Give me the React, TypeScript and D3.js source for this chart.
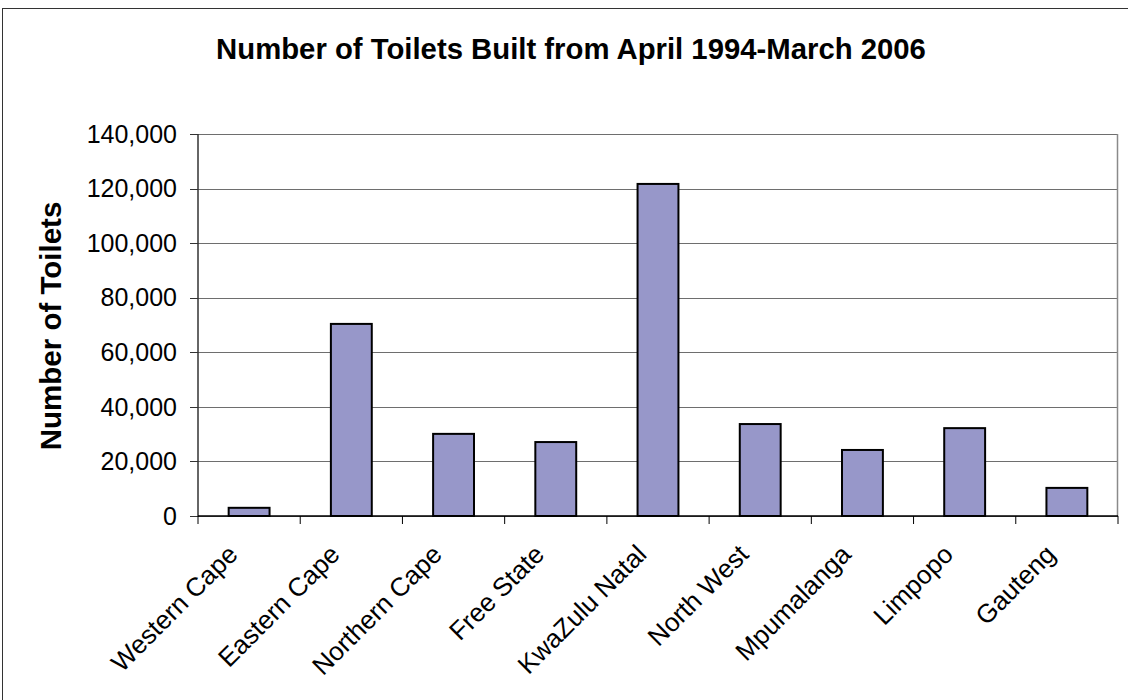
import React from "react";
import * as d3 from "d3";

const categories = [
  "Western Cape",
  "Eastern Cape",
  "Northern Cape",
  "Free State",
  "KwaZulu Natal",
  "North West",
  "Mpumalanga",
  "Limpopo",
  "Gauteng",
];
const toilets = [3000, 70400, 30100, 27100, 121700, 33700, 24200, 32200, 10300];
const yTicks = [0, 20000, 40000, 60000, 80000, 100000, 120000, 140000];
const title = "Number of Toilets Built from April 1994-March 2006";
const yTitle = "Number of Toilets";

const W = 1128;
const H = 700;
const left = 198;
const right = 1118;
const top = 134;
const bottom = 516;
const FONT = "'Liberation Sans', Arial, sans-serif";

export default function App() {
  const x = d3.scaleBand<string>().domain(categories).range([left, right]).paddingInner(0.6).paddingOuter(0.3);
  const y = d3.scaleLinear().domain([0, 140000]).range([bottom, top]);
  const step = x.step();
  const fmt = d3.format(",");
  const boundaries = categories.map((c) => (x(c) as number) - step * 0.3).concat([right]);

  return (
    <svg width={W} height={H} style={{ position: "absolute", left: 0, top: 0, background: "#fff" }} fontFamily={FONT}>
      <rect x={0} y={0} width={W} height={H} fill="#fff" />
      <rect x={2.5} y={8.5} width={W + 10} height={H + 10} fill="none" stroke="#333" strokeWidth={1} />
      <text x={571} y={59} textAnchor="middle" fontSize={29.3} fontWeight="bold" fill="#000">
        {title}
      </text>
      {/* gridlines */}
      {yTicks.map((t) => (
        <line key={"g" + t} x1={left} x2={right} y1={Math.round(y(t)) + 0.5} y2={Math.round(y(t)) + 0.5} stroke="#6e6e6e" strokeWidth={1} />
      ))}
      <line x1={right - 0.5} x2={right - 0.5} y1={top} y2={bottom} stroke="#8a8a8a" strokeWidth={1.5} />
      {/* bars */}
      {categories.map((c, i) => (
        <rect
          key={c}
          x={x(c)}
          y={y(toilets[i])}
          width={x.bandwidth()}
          height={bottom - y(toilets[i])}
          fill="#9797c9"
          stroke="#000"
          strokeWidth={2}
        />
      ))}
      {/* y axis */}
      <line x1={left} x2={left} y1={top} y2={bottom + 1} stroke="#333" strokeWidth={1.5} />
      {yTicks.map((t) => (
        <g key={"t" + t}>
          <line x1={left - 8} x2={left} y1={Math.round(y(t)) + 0.5} y2={Math.round(y(t)) + 0.5} stroke="#333" strokeWidth={1} />
          <text x={177} y={y(t)} dy="0.35em" textAnchor="end" fontSize={25} fill="#000">
            {fmt(t)}
          </text>
        </g>
      ))}
      {/* x axis */}
      <line x1={left} x2={right} y1={bottom} y2={bottom} stroke="#000" strokeWidth={1.5} />
      {boundaries.map((b, i) => (
        <line key={"xt" + i} x1={b} x2={b} y1={bottom} y2={bottom + 8} stroke="#000" strokeWidth={1} />
      ))}
      {categories.map((c) => {
        const cx = (x(c) as number) + x.bandwidth() / 2;
        const ax = cx - 10;
        const ay = bottom + 40;
        return (
          <text key={"l" + c} x={ax} y={ay} textAnchor="end" fontSize={26} fill="#000" transform={`rotate(-45 ${ax} ${ay})`}>
            {c}
          </text>
        );
      })}
      <text
        x={61}
        y={326}
        textAnchor="middle"
        fontSize={29.5}
        fontWeight="bold"
        fill="#000"
        transform={`rotate(-90 61 326)`}
      >
        {yTitle}
      </text>
    </svg>
  );
}
